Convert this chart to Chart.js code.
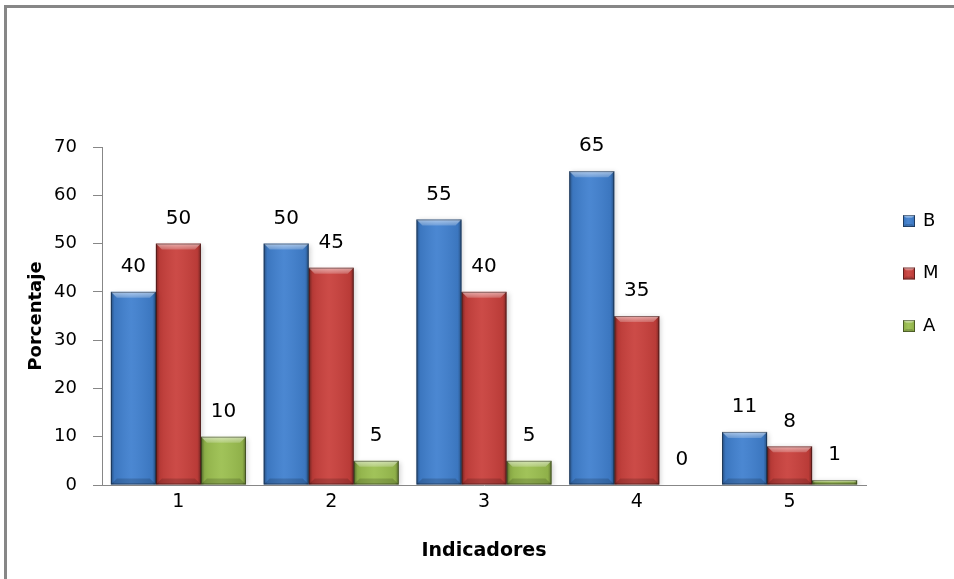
<!DOCTYPE html>
<html>
<head>
<meta charset="utf-8">
<script src="https://cdn.jsdelivr.net/npm/chart.js@4"></script>
<style>
  html, body { margin: 0; padding: 0; background: #fff; overflow: hidden; }
  #wrap { position: relative; width: 954px; height: 579px; }
  #frame { position: absolute; left: 4px; top: 5px; width: 970px; height: 600px;
           border: 3px solid #878787; box-sizing: border-box; pointer-events: none; }
  canvas { position: absolute; left: 0; top: 0; }
</style>
</head>
<body>
<div id="wrap">
  <canvas id="c" width="954" height="579"></canvas>
  <div id="frame"></div>
</div>
<script>
// Indicadores y porcentajes por nivel
const categories = ['1', '2', '3', '4', '5'];
const seriesB = [40, 50, 55, 65, 11];
const seriesM = [50, 45, 40, 35, 8];
const seriesA = [10, 5, 5, 0, 1];
const yTicks = [0, 10, 20, 30, 40, 50, 60, 70];
const seriesNames = ['B', 'M', 'A'];
const seriesColors = ['#4080CF', '#C9403C', '#9BBF4F'];

const FONT = 'DejaVu Sans';
const AXIS = '#878787';

// Bevel / shading on top of each bar, in the style of office charts
function shadeBox(ctx, l, t, r, b) {
  const w = r - l, h = b - t;
  if (w <= 0 || h <= 0) return;
  const e = Math.min(6, h / 2, w / 4);
  const g = ctx.createLinearGradient(l, 0, r, 0);
  g.addColorStop(0, 'rgba(0,0,0,0.38)');
  g.addColorStop(0.08, 'rgba(0,0,0,0.08)');
  g.addColorStop(0.45, 'rgba(255,255,255,0.06)');
  g.addColorStop(0.92, 'rgba(0,0,0,0.08)');
  g.addColorStop(1, 'rgba(0,0,0,0.38)');
  ctx.fillStyle = g;
  ctx.fillRect(l, t, w, h);
  // top bevel
  ctx.beginPath();
  ctx.moveTo(l, t); ctx.lineTo(r, t); ctx.lineTo(r - e, t + e); ctx.lineTo(l + e, t + e); ctx.closePath();
  const gt = ctx.createLinearGradient(0, t, 0, t + e);
  gt.addColorStop(0, 'rgba(255,255,255,0.55)');
  gt.addColorStop(1, 'rgba(255,255,255,0.2)');
  ctx.fillStyle = gt;
  ctx.fill();
  // bottom bevel
  ctx.beginPath();
  ctx.moveTo(l, b); ctx.lineTo(r, b); ctx.lineTo(r - e, b - e); ctx.lineTo(l + e, b - e); ctx.closePath();
  ctx.fillStyle = 'rgba(0,0,0,0.16)';
  ctx.fill();
  // outline
  ctx.strokeStyle = 'rgba(0,0,0,0.38)';
  ctx.lineWidth = 1;
  ctx.strokeRect(l + 0.5, t + 0.5, w - 1, h - 1);
}

const barBevel = {
  id: 'barBevel',
  beforeDatasetsDraw(chart) {
    const ctx = chart.ctx;
    ctx.save();
    ctx.shadowColor = 'rgba(0,0,0,0.18)';
    ctx.shadowBlur = 5;
    ctx.shadowOffsetX = 2;
    ctx.shadowOffsetY = 1;
  },
  afterDatasetsDraw(chart) {
    const ctx = chart.ctx;
    ctx.restore();
    ctx.save();
    chart.data.datasets.forEach((ds, i) => {
      chart.getDatasetMeta(i).data.forEach(bar => {
        const w = bar.width;
        shadeBox(ctx, bar.x - w / 2, Math.min(bar.y, bar.base), bar.x + w / 2, Math.max(bar.y, bar.base));
      });
    });
    ctx.restore();
  }
};

// Value printed above every bar
const valueLabels = {
  id: 'valueLabels',
  afterDatasetsDraw(chart) {
    const ctx = chart.ctx;
    ctx.save();
    ctx.font = '20px "' + FONT + '"';
    ctx.fillStyle = '#000';
    ctx.textAlign = 'center';
    ctx.textBaseline = 'middle';
    chart.data.datasets.forEach((ds, i) => {
      chart.getDatasetMeta(i).data.forEach((bar, j) => {
        ctx.fillText(String(ds.data[j]), bar.x, bar.y - 25);
      });
    });
    ctx.restore();
  }
};

// Legend column on the right of the plot
const sideLegend = {
  id: 'sideLegend',
  afterDraw(chart) {
    const ctx = chart.ctx;
    const area = chart.chartArea;
    const x0 = area.right + 37;
    ctx.save();
    ctx.font = '18px "' + FONT + '"';
    ctx.textAlign = 'left';
    ctx.textBaseline = 'middle';
    chart.data.datasets.forEach((ds, i) => {
      const cy = area.top + 74 + i * 52.5;
      ctx.fillStyle = ds.backgroundColor;
      ctx.fillRect(x0, cy - 6, 12, 12);
      shadeBox(ctx, x0, cy - 6, x0 + 12, cy + 6);
      ctx.fillStyle = '#000';
      ctx.fillText(ds.label, x0 + 20, cy);
    });
    ctx.restore();
  }
};

const seriesData = [seriesB, seriesM, seriesA];

new Chart(document.getElementById('c'), {
  type: 'bar',
  data: {
    labels: categories,
    datasets: seriesData.map((d, i) => ({
      label: seriesNames[i],
      data: d,
      backgroundColor: seriesColors[i],
      borderWidth: 0,
      categoryPercentage: 0.884,
      barPercentage: 1.0
    }))
  },
  options: {
    responsive: false,
    animation: false,
    devicePixelRatio: 1,
    layout: { padding: { left: 10, top: 147, right: 88, bottom: 0 } },
    plugins: {
      legend: { display: false },
      tooltip: { enabled: false }
    },
    scales: {
      x: {
        grid: { display: false },
        border: { display: true, color: AXIS, width: 1 },
        ticks: { font: { family: FONT, size: 19 }, color: '#000', padding: -2 },
        title: {
          display: true, text: 'Indicadores', color: '#000',
          font: { family: FONT, size: 19, weight: 'bold' },
          padding: { top: 0, bottom: 17 }
        },
        afterFit(s) { s.height = 94; }
      },
      y: {
        min: 0, max: 70,
        afterBuildTicks(s) { s.ticks = yTicks.map(v => ({ value: v })); },
        grid: { display: true, drawOnChartArea: false, drawTicks: true, tickLength: 9, color: AXIS },
        border: { display: true, color: AXIS, width: 1 },
        ticks: { font: { family: FONT, size: 18 }, color: '#000', padding: 16 },
        title: {
          display: true, text: 'Porcentaje', color: '#000',
          font: { family: FONT, size: 18, weight: 'bold' },
          padding: { top: 16, bottom: 0 }
        },
        afterFit(s) { s.width = 92; }
      }
    }
  },
  plugins: [barBevel, valueLabels, sideLegend]
});
</script>
</body>
</html>
